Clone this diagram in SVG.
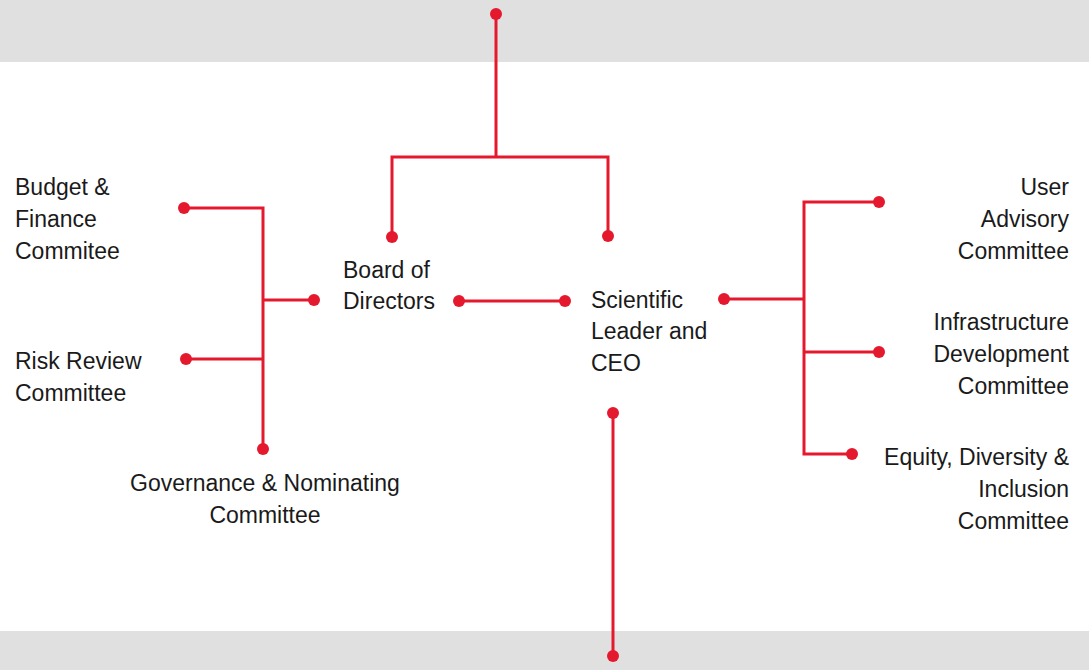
<svg xmlns="http://www.w3.org/2000/svg" width="1089" height="670" viewBox="0 0 1089 670">
<style>
.t{font-family:"Liberation Sans",Arial,sans-serif;font-size:23px;fill:#1a1a1a}
.r{text-anchor:end}
.m{text-anchor:middle}
.ln{fill:none;stroke:#e5192e;stroke-width:3}
.d{fill:#e5192e}
</style>
<rect x="0" y="0" width="1089" height="670" fill="#ffffff"/>
<rect x="0" y="0" width="1089" height="62" fill="#e0e0e0"/>
<rect x="0" y="631" width="1089" height="39" fill="#e0e0e0"/>
<g id="connectors">
<path class="ln" d="M496,14 V157 M392,237 V157 H608 V236"/>
<path class="ln" d="M184,208 H263 V449 M263,300 H314 M186,359 H263"/>
<path class="ln" d="M459,301 H565"/>
<path class="ln" d="M724,299 H804 M879,202 H804 V454 H852 M804,352 H879"/>
<path class="ln" d="M613,413 V656"/>
<g class="d">
<circle cx="496" cy="14" r="6"/><circle cx="392" cy="237" r="6"/><circle cx="608" cy="236" r="6"/>
<circle cx="184" cy="208" r="6"/><circle cx="314" cy="300" r="6"/><circle cx="186" cy="359" r="6"/><circle cx="263" cy="449" r="6"/>
<circle cx="459" cy="301" r="6"/><circle cx="565" cy="301" r="6"/>
<circle cx="724" cy="299" r="6"/><circle cx="879" cy="202" r="6"/><circle cx="879" cy="352" r="6"/><circle cx="852" cy="454" r="6"/>
<circle cx="613" cy="413" r="6"/><circle cx="613" cy="656" r="6"/>
</g>
</g>
<g id="budget"><text class="t" x="15" y="195">Budget &amp;</text><text class="t" x="15" y="227">Finance</text><text class="t" x="15" y="259">Commitee</text></g>
<g id="risk"><text class="t" x="15" y="369">Risk Review</text><text class="t" x="15" y="401">Committee</text></g>
<g id="governance"><text class="t m" x="265" y="491">Governance &amp; Nominating</text><text class="t m" x="265" y="523">Committee</text></g>
<g id="board"><text class="t" x="343" y="278">Board of</text><text class="t" x="343" y="309">Directors</text></g>
<g id="ceo"><text class="t" x="591" y="308">Scientific</text><text class="t" x="591" y="339">Leader and</text><text class="t" x="591" y="371">CEO</text></g>
<g id="user"><text class="t r" x="1069" y="195">User</text><text class="t r" x="1069" y="227">Advisory</text><text class="t r" x="1069" y="259">Committee</text></g>
<g id="infra"><text class="t r" x="1069" y="330">Infrastructure</text><text class="t r" x="1069" y="362">Development</text><text class="t r" x="1069" y="394">Committee</text></g>
<g id="edi"><text class="t r" x="1069" y="465">Equity, Diversity &amp;</text><text class="t r" x="1069" y="497">Inclusion</text><text class="t r" x="1069" y="529">Committee</text></g>
</svg>
